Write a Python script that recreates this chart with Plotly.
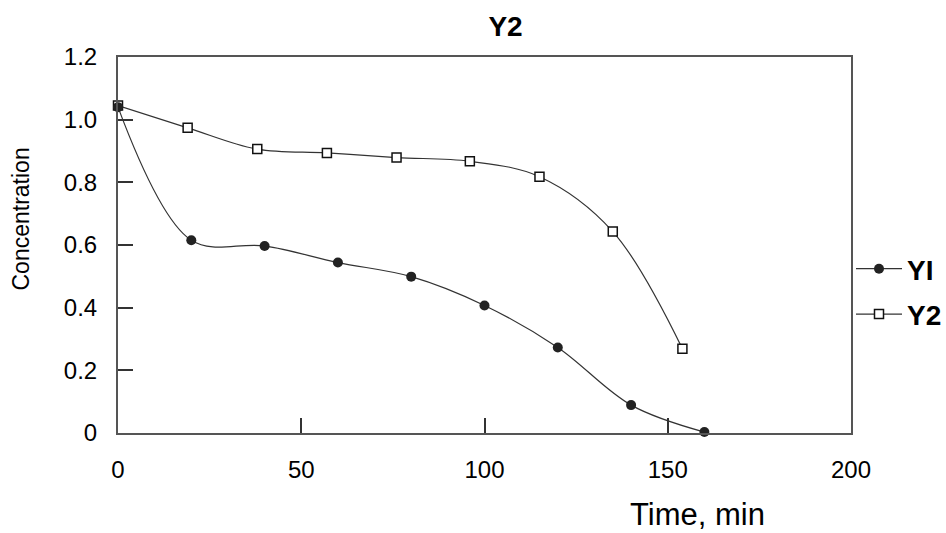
import plotly.graph_objects as go

# Data
y1_time = [0, 20, 40, 60, 80, 100, 120, 140, 160]
y1_conc = [1.04, 0.615, 0.597, 0.544, 0.499, 0.407, 0.273, 0.089, 0.003]

y2_time = [0, 19, 38, 57, 76, 96, 115, 135, 154]
y2_conc = [1.045, 0.974, 0.906, 0.894, 0.879, 0.867, 0.818, 0.643, 0.269]

x_ticks = [0, 50, 100, 150, 200]
x_tick_labels = ["0", "50", "100", "150", "200"]
y_ticks = [0, 0.2, 0.4, 0.6, 0.8, 1.0, 1.2]
y_tick_labels = ["0", "0.2", "0.4", "0.6", "0.8", "1.0", "1.2"]

FONT = "Liberation Sans, Arial, sans-serif"
W, H = 946, 533
L, R, T, B = 118, 95, 57, 100
pw, ph = W - L - R, H - T - B


def px_to_paper_x(px):
    return (px - L) / pw


def px_to_paper_y(py):
    return (H - B - py) / ph


fig = go.Figure()

fig.add_trace(go.Scatter(
    x=y2_time, y=y2_conc, name="<b>Y2</b>", mode="lines+markers",
    line=dict(color="#333333", width=1.2, shape="spline", smoothing=1.0),
    marker=dict(symbol="square", size=9, color="white",
                line=dict(color="#111111", width=1.5)),
    cliponaxis=False, legendrank=2, legendgroup="b",
))
fig.add_trace(go.Scatter(
    x=y1_time, y=y1_conc, name="<b>YI</b>", mode="lines+markers",
    line=dict(color="#333333", width=1.2, shape="spline", smoothing=1.0),
    marker=dict(symbol="circle", size=10, color="#222222"),
    cliponaxis=False, legendrank=1, legendgroup="a",
))

fig.update_layout(
    width=W, height=H,
    margin=dict(l=L, r=R, t=T, b=B, pad=0, autoexpand=False),
    paper_bgcolor="white", plot_bgcolor="white",
    font=dict(family=FONT, color="black"),
    title=dict(text="<b>Y2</b>", x=505.5 / W, xref="container", xanchor="center",
               y=1 - 26 / H, yref="container", yanchor="middle",
               font=dict(size=28, family=FONT, color="black")),
    showlegend=True,
    legend=dict(xref="container", yref="container",
                x=851 / W, xanchor="left",
                y=1 - 244 / H, yanchor="top",
                font=dict(size=28, family=FONT, color="black"),
                itemwidth=46, tracegroupgap=6, bgcolor="rgba(0,0,0,0)",
                borderwidth=0),
    xaxis=dict(range=[0, 200], tickvals=x_ticks, ticktext=x_tick_labels,
               showgrid=False, zeroline=False,
               showline=True, linecolor="#555555", linewidth=2, mirror=True,
               ticks="inside", ticklen=15, tickwidth=1.5, tickcolor="#333333",
               ticklabelstandoff=14,
               tickfont=dict(size=24, family=FONT, color="black")),
    yaxis=dict(range=[0, 1.2], tickvals=y_ticks, ticktext=y_tick_labels,
               showgrid=False, zeroline=False,
               showline=True, linecolor="#555555", linewidth=2, mirror=True,
               ticks="inside", ticklen=15, tickwidth=1.5, tickcolor="#333333",
               ticklabelstandoff=14,
               tickfont=dict(size=24, family=FONT, color="black")),
    annotations=[
        dict(text="Concentration", textangle=-90, showarrow=False,
             xref="paper", yref="paper",
             x=px_to_paper_x(20.5), y=px_to_paper_y(219),
             xanchor="center", yanchor="middle",
             font=dict(size=23, family=FONT, color="black")),
        dict(text="Time, min", showarrow=False,
             xref="paper", yref="paper",
             x=px_to_paper_x(697), y=px_to_paper_y(514),
             xanchor="center", yanchor="middle",
             font=dict(size=31, family=FONT, color="black")),
    ],
)

fig.write_html(
    "out.html",
    config={"displayModeBar": False},
    post_script="document.body.style.margin='0';document.body.style.padding='0';",
)
